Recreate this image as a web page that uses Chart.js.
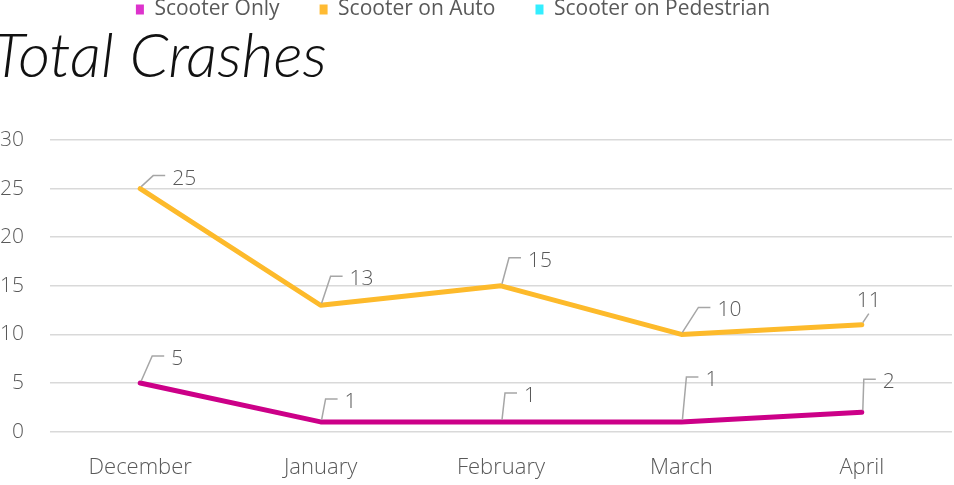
<!DOCTYPE html>
<html>
<head>
<meta charset="utf-8">
<title>Total Crashes</title>
<script src="https://cdn.jsdelivr.net/npm/chart.js@4.4.1/dist/chart.umd.min.js"></script>
<style>
  html, body { margin: 0; padding: 0; background: #fff; overflow: hidden; }
  #wrap { position: relative; width: 954px; height: 485px; }
</style>
</head>
<body>
<div id="wrap"><canvas id="crashes" width="954" height="485"></canvas></div>
<script>
// data
const months = ['December', 'January', 'February', 'March', 'April'];
const scooterOnly = [5, 1, 1, 1, 2];
const scooterOnAuto = [25, 13, 15, 10, 11];
const scooterOnPedestrian = [null, null, null, null, null]; // no line shown
const yTicks = [0, 5, 10, 15, 20, 25, 30];

// leader-line elbows for the data labels, relative to each point
const onlyLeaders = [[12, -27], [5, -23], [4, -29], [5, -45], [2, -33]];
const autoLeaders = [[13, -13], [10, -29], [8, -28], [17, -27], [7, -11, 'above']];

const lineColors = ['#cc0088', '#fdba2b', '#33eeff'];
const legendColors = ['#dd33cc', '#ffbb33', '#33eeff'];

const FONT = '"Open Sans"';
const grey = '#595959';

const extras = {
  id: 'extras',
  afterLayout(chart) {
    // excel puts the legend a bit left of centre and clipped at the top
    const lg = chart.legend;
    lg.left -= 23; lg.right -= 23;
    lg.top = -41; lg.bottom = lg.top + lg.height;
  },
  afterDatasetsDraw(chart) {
    const ctx = chart.ctx;
    chart.data.datasets.forEach((ds, i) => {
      if (!ds.leaders) return;
      const meta = chart.getDatasetMeta(i);
      meta.data.forEach((pt, j) => {
        const v = ds.data[j];
        if (v == null) return;
        const [dx, dy, mode] = ds.leaders[j];
        const ex = pt.x + dx, ey = pt.y + dy;
        ctx.save();
        ctx.strokeStyle = '#a6a6a6';
        ctx.lineWidth = 1.5;
        ctx.beginPath();
        ctx.moveTo(pt.x + 1, pt.y - 2);
        ctx.lineTo(ex, ey);
        if (mode !== 'above') ctx.lineTo(ex + 12, ey);
        ctx.stroke();
        ctx.fillStyle = grey;
        ctx.font = '300 21px ' + FONT;
        if (mode === 'above') {
          ctx.textAlign = 'center';
          ctx.textBaseline = 'bottom';
          ctx.fillText(String(v), ex, ey - 2);
        } else {
          ctx.textAlign = 'left';
          ctx.textBaseline = 'middle';
          ctx.fillText(String(v), ex + 19, ey + 3);
        }
        ctx.restore();
      });
    });
  },
  afterDraw(chart) {
    const ctx = chart.ctx;
    ctx.save();
    ctx.fillStyle = '#111';
    ctx.font = 'italic 300 62px Lato';
    ctx.textAlign = 'left';
    ctx.textBaseline = 'alphabetic';
    ctx.fillText('Total Crashes', -8, 77);
    ctx.restore();
  }
};

new Chart(document.getElementById('crashes'), {
  type: 'line',
  data: {
    labels: months,
    datasets: [
      { label: 'Scooter Only', data: scooterOnly, borderColor: lineColors[0], backgroundColor: legendColors[0], leaders: onlyLeaders },
      { label: 'Scooter on Auto', data: scooterOnAuto, borderColor: lineColors[1], backgroundColor: legendColors[1], leaders: autoLeaders },
      { label: 'Scooter on Pedestrian', data: scooterOnPedestrian, borderColor: lineColors[2], backgroundColor: legendColors[2] }
    ]
  },
  options: {
    responsive: false,
    animation: false,
    layout: { padding: { top: 69, right: 2, bottom: -19, left: 0 } },
    elements: {
      line: { borderWidth: 5, tension: 0, borderCapStyle: 'round', borderJoinStyle: 'round', fill: false },
      point: { radius: 0, hoverRadius: 0 }
    },
    plugins: {
      title: { display: false },
      tooltip: { enabled: false },
      legend: {
        position: 'top',
        labels: {
          boxWidth: 8,
          boxHeight: 10,
          padding: 40,
          color: grey,
          font: { family: FONT, size: 21 },
          generateLabels(chart) {
            return chart.data.datasets.map((ds, i) => ({
              text: ds.label,
              fillStyle: legendColors[i],
              strokeStyle: legendColors[i],
              lineWidth: 0,
              hidden: false,
              datasetIndex: i,
              fontColor: grey
            }));
          }
        }
      }
    },
    scales: {
      x: {
        offset: true,
        grid: { display: false, drawTicks: false },
        border: { display: false },
        ticks: { color: grey, padding: 23, maxRotation: 0, font: { family: FONT, weight: 300, size: 22 } }
      },
      y: {
        min: 0,
        max: 30,
        afterFit(scale) { scale.width = 50; },
        afterBuildTicks(scale) { scale.ticks = yTicks.map(v => ({ value: v })); },
        grid: { color: '#d9d9d9', lineWidth: 1.5, drawTicks: false },
        border: { display: false },
        ticks: { color: grey, padding: 26, font: { family: FONT, weight: 300, size: 21 } }
      }
    }
  },
  plugins: [extras]
});
</script>
</body>
</html>
